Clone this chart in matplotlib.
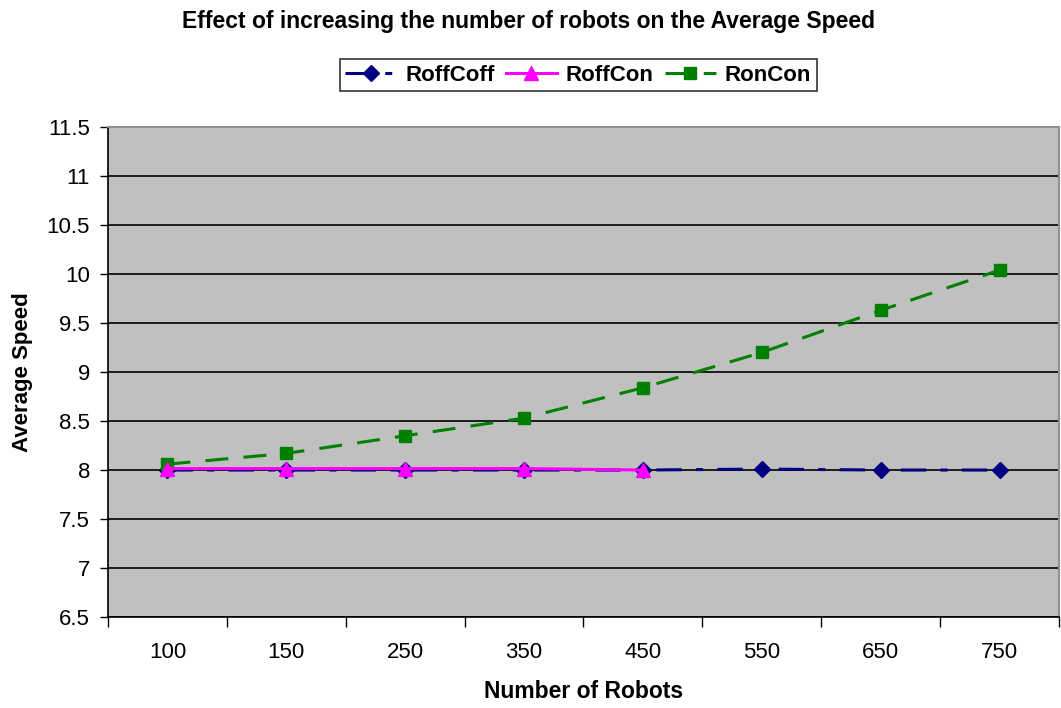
import matplotlib.pyplot as plt
import numpy as np

plt.rcParams["font.family"] = ["Liberation Sans", "DejaVu Sans"]

robots = ["100", "150", "250", "350", "450", "550", "650", "750"]
roff_coff = [8.00, 8.00, 8.00, 8.00, 8.00, 8.01, 8.00, 8.00]
roff_con = [8.015, 8.015, 8.015, 8.015, 8.00]
ron_con = [8.06, 8.17, 8.35, 8.53, 8.84, 9.20, 9.63, 10.04]

y_ticks = np.arange(6.5, 11.51, 0.5)

fig = plt.figure(figsize=(10.61, 7.08), dpi=100)
ax = fig.add_axes([0.1018, 0.1285, 0.8963, 0.692])
ax.set_facecolor("#C0C0C0")

x = np.arange(len(robots))

ax.plot(x, roff_coff, color="#000080", lw=2.2, dashes=(8.3, 4.7, 2.3, 4.7),
        marker="D", markersize=8, label="RoffCoff", zorder=3)
ax.plot(x[:len(roff_con)], roff_con, color="#FF00FF", lw=2.2,
        marker="^", markersize=10, label="RoffCon", zorder=4)
ax.plot(x, ron_con, color="#008000", lw=2.2, dashes=(7.5, 5),
        marker="s", markersize=8, label="RonCon", zorder=3)

ax.set_xlim(-0.5, len(robots) - 0.5)
ax.set_ylim(6.5, 11.5)
ax.set_yticks(y_ticks)
ax.set_yticklabels([f"{v:g}" for v in y_ticks])
ax.yaxis.grid(True, color="black", lw=1.2)
ax.set_axisbelow(True)

# category labels sit between the boundary tick marks
ax.set_xticks(np.arange(len(robots) + 1) - 0.5)
ax.set_xticklabels([])
ax.set_xticks(x, minor=True)
ax.set_xticklabels(robots, minor=True)
ax.tick_params(axis="x", which="minor", length=0, pad=18, labelsize=16)
ax.tick_params(axis="x", which="major", length=7, width=1, color="black", direction="out")
ax.tick_params(axis="y", length=6, width=1, direction="out", labelsize=16, pad=7)

for side in ("top", "right"):
    ax.spines[side].set_color("#909090")
    ax.spines[side].set_linewidth(1.5)
for side in ("left", "bottom"):
    ax.spines[side].set_color("black")
    ax.spines[side].set_linewidth(1.2)

ax.set_xlabel("Number of Robots", fontsize=16.5, fontweight="bold", labelpad=12)
ax.set_ylabel("Average Speed", fontsize=16, fontweight="bold", labelpad=10)

fig.text(0.4977, 0.970, "Effect of increasing the number of robots on the Average Speed",
         ha="center", va="center", fontsize=16.5, fontweight="bold")

leg = fig.legend(loc="center", bbox_to_anchor=(0.545, 0.894), ncol=3, frameon=True,
                 fancybox=False, edgecolor="black",
                 prop={"weight": "bold", "size": 16}, handlelength=2.3,
                 columnspacing=0.5, handletextpad=0.4, borderpad=0.25,
                 borderaxespad=0)
leg.get_frame().set_linewidth(1.2)

fig.savefig("out.png", dpi=100)
